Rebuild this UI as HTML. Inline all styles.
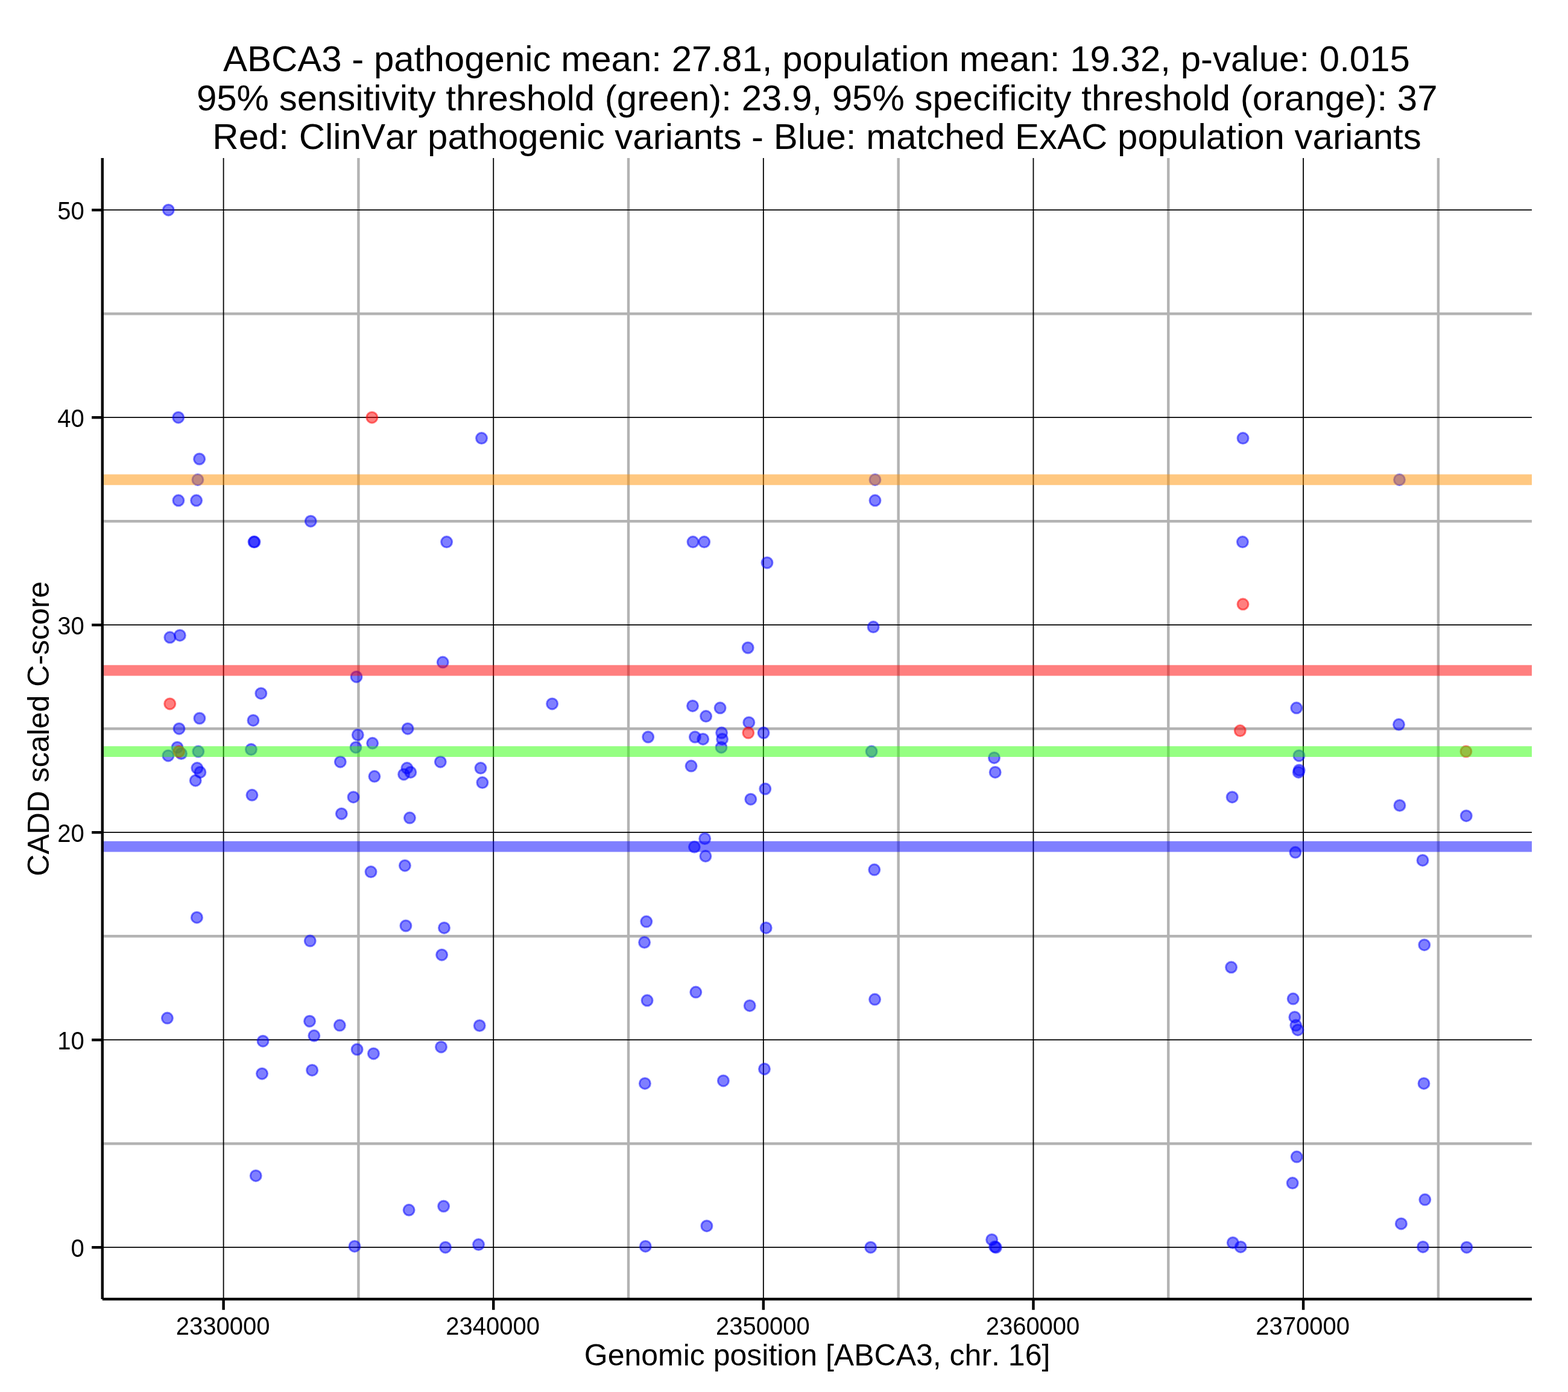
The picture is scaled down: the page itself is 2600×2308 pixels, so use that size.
<!DOCTYPE html>
<html lang="en"><head><meta charset="utf-8"><title>ABCA3 CADD scaled C-score by genomic position</title>
<style>
html,body{margin:0;padding:0;background:#fff;}
body{width:2600px;height:2308px;}
svg{display:block;}
text{font-family:"Liberation Sans",sans-serif;fill:#000;font-kerning:none;}
.t{font-size:60px;text-anchor:middle;}
.al{font-size:50px;text-anchor:middle;}
.xl{font-size:40px;text-anchor:middle;}
.yl{font-size:40px;text-anchor:end;}
.mn{stroke:#b3b3b3;stroke-width:4.4;fill:none;}
.mj{stroke:#000;stroke-width:1.8;fill:none;}
.ax{stroke:#000;stroke-width:4.45;fill:none;}
.b{fill:rgb(0,0,255);fill-opacity:.5;stroke:rgb(0,0,255);stroke-opacity:.5;stroke-width:3.0;}
.r{fill:rgb(255,0,0);fill-opacity:.5;stroke:rgb(255,0,0);stroke-opacity:.5;stroke-width:3.0;}
.h{stroke-width:17.8;stroke-opacity:.5;fill:none;}
</style></head><body>
<svg width="2600" height="2308" viewBox="0 0 2600 2308">
<rect x="0" y="0" width="2600" height="2308" fill="#fff"/>
<g class="title">
<text class="t" x="1353.95" y="118.1">ABCA3 - pathogenic mean: 27.81, population mean: 19.32, p-value: 0.015</text>
<text class="t" x="1354.75" y="182.9">95% sensitivity threshold (green): 23.9, 95% specificity threshold (orange): 37</text>
<text class="t" x="1354.5" y="247.4">Red: ClinVar pathogenic variants - Blue: matched ExAC population variants</text>
</g>
<g class="grid-minor">
<line class="mn" x1="169.8" x2="2540.0" y1="1896.20" y2="1896.20"/>
<line class="mn" x1="169.8" x2="2540.0" y1="1552.20" y2="1552.20"/>
<line class="mn" x1="169.8" x2="2540.0" y1="1208.20" y2="1208.20"/>
<line class="mn" x1="169.8" x2="2540.0" y1="864.20" y2="864.20"/>
<line class="mn" x1="169.8" x2="2540.0" y1="520.20" y2="520.20"/>
<line class="mn" x1="594.41" x2="594.41" y1="262.1" y2="2154.1"/>
<line class="mn" x1="1042.04" x2="1042.04" y1="262.1" y2="2154.1"/>
<line class="mn" x1="1489.66" x2="1489.66" y1="262.1" y2="2154.1"/>
<line class="mn" x1="1937.29" x2="1937.29" y1="262.1" y2="2154.1"/>
<line class="mn" x1="2384.91" x2="2384.91" y1="262.1" y2="2154.1"/>
</g>
<g class="grid-major">
<line class="mj" x1="169.8" x2="2540.0" y1="2068.20" y2="2068.20"/>
<line class="mj" x1="169.8" x2="2540.0" y1="1724.20" y2="1724.20"/>
<line class="mj" x1="169.8" x2="2540.0" y1="1380.20" y2="1380.20"/>
<line class="mj" x1="169.8" x2="2540.0" y1="1036.20" y2="1036.20"/>
<line class="mj" x1="169.8" x2="2540.0" y1="692.20" y2="692.20"/>
<line class="mj" x1="169.8" x2="2540.0" y1="348.20" y2="348.20"/>
<line class="mj" x1="370.60" x2="370.60" y1="262.1" y2="2154.1"/>
<line class="mj" x1="818.22" x2="818.22" y1="262.1" y2="2154.1"/>
<line class="mj" x1="1265.85" x2="1265.85" y1="262.1" y2="2154.1"/>
<line class="mj" x1="1713.47" x2="1713.47" y1="262.1" y2="2154.1"/>
<line class="mj" x1="2161.10" x2="2161.10" y1="262.1" y2="2154.1"/>
</g>
<g class="pts-blue">
<circle class="b" cx="279.3" cy="348.2" r="9.0"/>
<circle class="b" cx="295.7" cy="692.2" r="9.0"/>
<circle class="b" cx="330.6" cy="761.0" r="9.0"/>
<circle class="b" cx="327.9" cy="795.4" r="9.0"/>
<circle class="b" cx="295.9" cy="829.8" r="9.0"/>
<circle class="b" cx="325.6" cy="829.8" r="9.0"/>
<circle class="b" cx="515.2" cy="864.2" r="9.0"/>
<circle class="b" cx="421.0" cy="898.6" r="9.0"/>
<circle class="b" cx="422.0" cy="898.6" r="9.0"/>
<circle class="b" cx="740.6" cy="898.6" r="9.0"/>
<circle class="b" cx="281.8" cy="1056.8" r="9.0"/>
<circle class="b" cx="298.3" cy="1053.4" r="9.0"/>
<circle class="b" cx="734.2" cy="1098.1" r="9.0"/>
<circle class="b" cx="591.0" cy="1122.2" r="9.0"/>
<circle class="b" cx="798.5" cy="726.6" r="9.0"/>
<circle class="b" cx="1149.0" cy="898.6" r="9.0"/>
<circle class="b" cx="1167.7" cy="898.6" r="9.0"/>
<circle class="b" cx="1272.0" cy="933.0" r="9.0"/>
<circle class="b" cx="1240.2" cy="1074.0" r="9.0"/>
<circle class="b" cx="1451.0" cy="795.4" r="9.0"/>
<circle class="b" cx="1451.0" cy="829.8" r="9.0"/>
<circle class="b" cx="1448.1" cy="1039.6" r="9.0"/>
<circle class="b" cx="2061.0" cy="726.6" r="9.0"/>
<circle class="b" cx="2320.5" cy="795.4" r="9.0"/>
<circle class="b" cx="2060.4" cy="898.6" r="9.0"/>
<circle class="b" cx="432.8" cy="1149.7" r="9.0"/>
<circle class="b" cx="330.9" cy="1191.0" r="9.0"/>
<circle class="b" cx="419.9" cy="1194.4" r="9.0"/>
<circle class="b" cx="297.0" cy="1208.2" r="9.0"/>
<circle class="b" cx="294.0" cy="1239.2" r="9.0"/>
<circle class="b" cx="300.5" cy="1249.5" r="9.0"/>
<circle class="b" cx="278.9" cy="1252.9" r="9.0"/>
<circle class="b" cx="328.8" cy="1246.0" r="9.0"/>
<circle class="b" cx="416.4" cy="1242.6" r="9.0"/>
<circle class="b" cx="326.9" cy="1273.6" r="9.0"/>
<circle class="b" cx="331.9" cy="1280.4" r="9.0"/>
<circle class="b" cx="324.2" cy="1294.2" r="9.0"/>
<circle class="b" cx="417.9" cy="1318.3" r="9.0"/>
<circle class="b" cx="564.3" cy="1263.2" r="9.0"/>
<circle class="b" cx="566.3" cy="1349.2" r="9.0"/>
<circle class="b" cx="915.6" cy="1166.9" r="9.0"/>
<circle class="b" cx="676.1" cy="1208.2" r="9.0"/>
<circle class="b" cx="593.3" cy="1218.5" r="9.0"/>
<circle class="b" cx="617.6" cy="1232.3" r="9.0"/>
<circle class="b" cx="590.0" cy="1239.2" r="9.0"/>
<circle class="b" cx="730.3" cy="1263.2" r="9.0"/>
<circle class="b" cx="674.9" cy="1273.6" r="9.0"/>
<circle class="b" cx="680.8" cy="1280.4" r="9.0"/>
<circle class="b" cx="669.6" cy="1283.9" r="9.0"/>
<circle class="b" cx="620.9" cy="1287.3" r="9.0"/>
<circle class="b" cx="797.0" cy="1273.6" r="9.0"/>
<circle class="b" cx="799.9" cy="1297.6" r="9.0"/>
<circle class="b" cx="586.0" cy="1321.7" r="9.0"/>
<circle class="b" cx="679.4" cy="1356.1" r="9.0"/>
<circle class="b" cx="1148.5" cy="1170.4" r="9.0"/>
<circle class="b" cx="1194.1" cy="1173.8" r="9.0"/>
<circle class="b" cx="1170.6" cy="1187.6" r="9.0"/>
<circle class="b" cx="1241.8" cy="1197.9" r="9.0"/>
<circle class="b" cx="1196.6" cy="1215.1" r="9.0"/>
<circle class="b" cx="1197.6" cy="1225.4" r="9.0"/>
<circle class="b" cx="1196.0" cy="1239.2" r="9.0"/>
<circle class="b" cx="1266.1" cy="1215.1" r="9.0"/>
<circle class="b" cx="1074.7" cy="1222.0" r="9.0"/>
<circle class="b" cx="1152.4" cy="1222.0" r="9.0"/>
<circle class="b" cx="1165.7" cy="1225.4" r="9.0"/>
<circle class="b" cx="1146.1" cy="1270.1" r="9.0"/>
<circle class="b" cx="1268.8" cy="1308.0" r="9.0"/>
<circle class="b" cx="1244.8" cy="1325.2" r="9.0"/>
<circle class="b" cx="1168.7" cy="1390.5" r="9.0"/>
<circle class="b" cx="1151.4" cy="1404.3" r="9.0"/>
<circle class="b" cx="1169.9" cy="1419.5" r="9.0"/>
<circle class="b" cx="1445.1" cy="1246.0" r="9.0"/>
<circle class="b" cx="1648.5" cy="1256.4" r="9.0"/>
<circle class="b" cx="1650.2" cy="1280.4" r="9.0"/>
<circle class="b" cx="2149.8" cy="1173.8" r="9.0"/>
<circle class="b" cx="2154.0" cy="1252.9" r="9.0"/>
<circle class="b" cx="2154.2" cy="1277.0" r="9.0"/>
<circle class="b" cx="2153.2" cy="1280.4" r="9.0"/>
<circle class="b" cx="2043.2" cy="1321.7" r="9.0"/>
<circle class="b" cx="2319.5" cy="1201.3" r="9.0"/>
<circle class="b" cx="2320.9" cy="1335.5" r="9.0"/>
<circle class="b" cx="2431.3" cy="1352.7" r="9.0"/>
<circle class="b" cx="326.4" cy="1521.2" r="9.0"/>
<circle class="b" cx="514.2" cy="1560.1" r="9.0"/>
<circle class="b" cx="277.4" cy="1688.1" r="9.0"/>
<circle class="b" cx="513.5" cy="1693.2" r="9.0"/>
<circle class="b" cx="615.0" cy="1445.6" r="9.0"/>
<circle class="b" cx="671.4" cy="1435.2" r="9.0"/>
<circle class="b" cx="672.9" cy="1535.0" r="9.0"/>
<circle class="b" cx="736.5" cy="1538.4" r="9.0"/>
<circle class="b" cx="732.6" cy="1583.2" r="9.0"/>
<circle class="b" cx="1071.8" cy="1528.1" r="9.0"/>
<circle class="b" cx="1068.6" cy="1562.5" r="9.0"/>
<circle class="b" cx="1270.2" cy="1538.4" r="9.0"/>
<circle class="b" cx="1153.8" cy="1645.1" r="9.0"/>
<circle class="b" cx="1073.1" cy="1658.8" r="9.0"/>
<circle class="b" cx="1243.2" cy="1667.4" r="9.0"/>
<circle class="b" cx="1449.8" cy="1442.1" r="9.0"/>
<circle class="b" cx="1450.6" cy="1657.1" r="9.0"/>
<circle class="b" cx="2147.9" cy="1413.3" r="9.0"/>
<circle class="b" cx="2041.6" cy="1603.8" r="9.0"/>
<circle class="b" cx="2144.2" cy="1656.1" r="9.0"/>
<circle class="b" cx="2146.8" cy="1686.4" r="9.0"/>
<circle class="b" cx="2359.0" cy="1426.4" r="9.0"/>
<circle class="b" cx="2361.8" cy="1566.7" r="9.0"/>
<circle class="b" cx="563.3" cy="1700.1" r="9.0"/>
<circle class="b" cx="520.8" cy="1717.3" r="9.0"/>
<circle class="b" cx="436.0" cy="1726.2" r="9.0"/>
<circle class="b" cx="592.1" cy="1740.0" r="9.0"/>
<circle class="b" cx="619.4" cy="1746.9" r="9.0"/>
<circle class="b" cx="731.5" cy="1735.9" r="9.0"/>
<circle class="b" cx="434.5" cy="1780.2" r="9.0"/>
<circle class="b" cx="517.6" cy="1774.4" r="9.0"/>
<circle class="b" cx="424.2" cy="1949.4" r="9.0"/>
<circle class="b" cx="678.1" cy="2006.3" r="9.0"/>
<circle class="b" cx="735.6" cy="2000.0" r="9.0"/>
<circle class="b" cx="588.0" cy="2066.4" r="9.0"/>
<circle class="b" cx="738.6" cy="2068.2" r="9.0"/>
<circle class="b" cx="795.2" cy="1700.5" r="9.0"/>
<circle class="b" cx="1267.5" cy="1772.4" r="9.0"/>
<circle class="b" cx="1199.4" cy="1791.9" r="9.0"/>
<circle class="b" cx="1069.4" cy="1796.4" r="9.0"/>
<circle class="b" cx="1171.9" cy="2032.7" r="9.0"/>
<circle class="b" cx="793.5" cy="2063.6" r="9.0"/>
<circle class="b" cx="1070.3" cy="2066.4" r="9.0"/>
<circle class="b" cx="1443.7" cy="2068.2" r="9.0"/>
<circle class="b" cx="1644.6" cy="2055.4" r="9.0"/>
<circle class="b" cx="1649.5" cy="2067.2" r="9.0"/>
<circle class="b" cx="1651.5" cy="2068.3" r="9.0"/>
<circle class="b" cx="2148.8" cy="1700.1" r="9.0"/>
<circle class="b" cx="2152.0" cy="1707.7" r="9.0"/>
<circle class="b" cx="2361.0" cy="1796.4" r="9.0"/>
<circle class="b" cx="2150.2" cy="1918.1" r="9.0"/>
<circle class="b" cx="2143.2" cy="1961.6" r="9.0"/>
<circle class="b" cx="2362.8" cy="1989.1" r="9.0"/>
<circle class="b" cx="2323.4" cy="2028.9" r="9.0"/>
<circle class="b" cx="2044.3" cy="2060.5" r="9.0"/>
<circle class="b" cx="2057.2" cy="2067.4" r="9.0"/>
<circle class="b" cx="2359.5" cy="2067.4" r="9.0"/>
<circle class="b" cx="2432.0" cy="2068.2" r="9.0"/>
</g>
<g class="pts-red">
<circle class="r" cx="616.8" cy="692.2" r="9.0"/>
<circle class="r" cx="2061.0" cy="1001.8" r="9.0"/>
<circle class="r" cx="281.7" cy="1166.9" r="9.0"/>
<circle class="r" cx="296.7" cy="1246.0" r="9.0"/>
<circle class="r" cx="1240.8" cy="1215.1" r="9.0"/>
<circle class="r" cx="2056.3" cy="1211.6" r="9.0"/>
<circle class="r" cx="2430.9" cy="1246.0" r="9.0"/>
</g>
<g class="hlines">
<line class="h" stroke="rgb(0,0,255)" x1="169.8" x2="2540.0" y1="1403.59" y2="1403.59"/>
<line class="h" stroke="rgb(255,0,0)" x1="169.8" x2="2540.0" y1="1111.54" y2="1111.54"/>
<line class="h" stroke="rgb(44,255,6)" x1="169.8" x2="2540.0" y1="1246.04" y2="1246.04"/>
<line class="h" stroke="rgb(255,146,4)" x1="169.8" x2="2540.0" y1="795.40" y2="795.40"/>
</g>
<g class="axes">
<line class="ax" x1="169.75" x2="169.75" y1="262.1" y2="2154.05"/>
<line class="ax" x1="169.75" x2="2540.0" y1="2154.05" y2="2154.05"/>
<line class="ax" x1="152.1" x2="169.8" y1="2068.20" y2="2068.20"/>
<text class="yl" transform="translate(139.65,2083.65) scale(1,1.07)">0</text>
<line class="ax" x1="152.1" x2="169.8" y1="1724.20" y2="1724.20"/>
<text class="yl" transform="translate(139.65,1739.65) scale(1,1.07)">10</text>
<line class="ax" x1="152.1" x2="169.8" y1="1380.20" y2="1380.20"/>
<text class="yl" transform="translate(139.65,1395.65) scale(1,1.07)">20</text>
<line class="ax" x1="152.1" x2="169.8" y1="1036.20" y2="1036.20"/>
<text class="yl" transform="translate(139.65,1051.65) scale(1,1.07)">30</text>
<line class="ax" x1="152.1" x2="169.8" y1="692.20" y2="692.20"/>
<text class="yl" transform="translate(139.65,707.65) scale(1,1.07)">40</text>
<line class="ax" x1="152.1" x2="169.8" y1="348.20" y2="348.20"/>
<text class="yl" transform="translate(139.65,363.65) scale(1,1.07)">50</text>
<line class="ax" x1="370.60" x2="370.60" y1="2154.1" y2="2171.8"/>
<text class="xl" transform="translate(369.6,2213.3) scale(1,1.076)">2330000</text>
<line class="ax" x1="818.22" x2="818.22" y1="2154.1" y2="2171.8"/>
<text class="xl" transform="translate(817.2,2213.3) scale(1,1.076)">2340000</text>
<line class="ax" x1="1265.85" x2="1265.85" y1="2154.1" y2="2171.8"/>
<text class="xl" transform="translate(1264.8,2213.3) scale(1,1.076)">2350000</text>
<line class="ax" x1="1713.47" x2="1713.47" y1="2154.1" y2="2171.8"/>
<text class="xl" transform="translate(1712.5,2213.3) scale(1,1.076)">2360000</text>
<line class="ax" x1="2161.10" x2="2161.10" y1="2154.1" y2="2171.8"/>
<text class="xl" transform="translate(2160.1,2213.3) scale(1,1.076)">2370000</text>
</g>
<text class="al" x="1355.05" y="2263.5">Genomic position [ABCA3, chr. 16]</text>
<text class="al" transform="translate(80.7,1208.2) rotate(-90)">CADD scaled C-score</text>
</svg>
</body></html>
